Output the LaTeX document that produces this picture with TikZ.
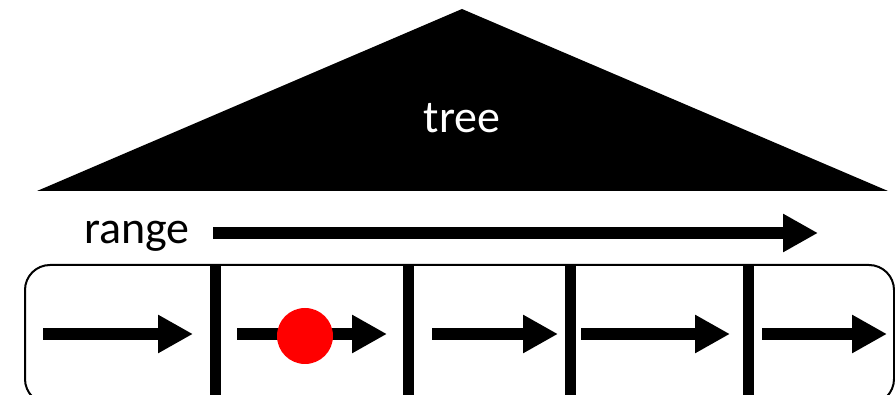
\documentclass[tikz,border=0pt]{standalone}
\usepackage{fontspec}
\setmainfont{Carlito}
\usetikzlibrary{arrows.meta}

\tikzset{
  bigarrow/.style={line width=11.5pt,-{Triangle[length=35pt,width=36pt]}},
  divider/.style={line width=11pt},
  label/.style={font=\fontsize{46}{50}\selectfont,inner sep=0pt}
}

\begin{document}
\begin{tikzpicture}[x=1pt,y=-1pt]
\useasboundingbox (0,0) rectangle (895,395);
\clip (0,0) rectangle (895,395);
% tree on top
\fill[black] (37,191) -- (462,9) -- (888,191) -- cycle;
\node[label,text=white,anchor=base] (tree) at (462,133) {tree};
% range
\node[label,anchor=base west] (range) at (84,244) {range};
\coordinate (rs) at (213,233);
\coordinate (re) at (818,233);
\draw[bigarrow] (rs) -- (re);
% leaf row
\draw[line width=2pt,rounded corners=25pt] (25,265) rectangle (894,404);
\foreach \x [count=\i] in {215,408,570,748} {
  \coordinate (b\i t) at (\x,266);
  \coordinate (b\i b) at (\x,400);
  \draw[divider] (b\i t) -- (b\i b);
}
\foreach \s/\e [count=\i] in {43/193,237/387,432/558,581/730,762/887} {
  \coordinate (c\i s) at (\s,334);
  \coordinate (c\i e) at (\e,334);
  \draw[bigarrow] (c\i s) -- (c\i e);
}
\fill[red] (305,336) circle (28);
\end{tikzpicture}
\end{document}
